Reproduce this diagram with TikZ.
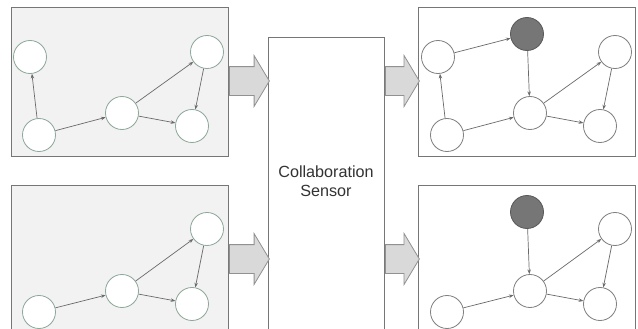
\documentclass[tikz,border=0pt]{standalone}
\usepackage{fontspec}
\setmainfont{Liberation Sans}
\usetikzlibrary{
  arrows.meta,   % 连线箭头
  shapes.arrows, % 粗箭头
  positioning    % 节点相对定位
}
\definecolor{panelgray}{HTML}{F2F2F2}
\definecolor{framegray}{HTML}{767676}
\definecolor{ringgreen}{HTML}{8CA898}
\definecolor{ringgray}{HTML}{808080}
\definecolor{edgegray}{HTML}{6A6A6A}
\definecolor{hitgray}{HTML}{767676}
\definecolor{arrowfill}{HTML}{D9D9D9}
\tikzset{
  panel/.style={
    draw=framegray,
    fill=panelgray,
    line width=0.8pt,
    anchor=north west,
    inner sep=0pt
  },
  outpanel/.style={
    panel,
    fill=white
  },
  vertex/.style={
    circle,
    draw=ringgreen,
    fill=white,
    line width=0.7pt,
    inner sep=0pt,
    minimum size=0.99cm
  },
  outvertex/.style={
    vertex,
    draw=ringgray
  },
  hit/.style={
    vertex,
    draw=black!65,
    fill=hitgray
  },
  edge/.style={
    -{Stealth[length=4pt,width=3pt]},
    draw=edgegray,
    line width=0.6pt
  },
  bigarrow/.style={
    single arrow,
    draw=framegray!80,
    fill=arrowfill,
    line width=0.7pt,
    inner xsep=0pt,
    inner ysep=0.42cm,
    minimum height=1.2cm,
    single arrow head extend=0.33cm,
    single arrow tip angle=118,
    anchor=tail
  }
}

\begin{document}
\begin{tikzpicture}[x=0.03cm, y=-0.03cm]
  % 画布大小
  \useasboundingbox (0,0) rectangle (638,328);

  % 1. 四个面板与中间的协作传感器
  \node[panel, minimum width=6.51cm, minimum height=4.47cm] (inTop) at (11,7) {};
  \node[panel, minimum width=6.51cm, minimum height=4.8cm] (inBot) at (11,185) {};
  \node[outpanel, minimum width=6.51cm, minimum height=4.47cm] (outTop) at (418,7) {};
  \node[outpanel, minimum width=6.51cm, minimum height=4.8cm] (outBot) at (418,185) {};
  \node[outpanel, minimum width=3.48cm, minimum height=9.3cm] (sensor) at (268,37) {};
  \node[align=center, font=\fontsize{13.8}{16.5}\selectfont, text=black!80]
    (label) at (326,181) {Collaboration\\Sensor};

  % 2. 粗箭头
  \node[bigarrow] (arrInTop) at (inTop.east |- 0,81) {};
  \node[bigarrow] (arrInBot) at (inBot.east |- 0,259) {};
  \node[bigarrow, minimum height=1.02cm] (arrOutTop) at (sensor.east |- 0,81) {};
  \node[bigarrow, minimum height=1.02cm] (arrOutBot) at (sensor.east |- 0,259) {};

  % 3. 左上图
  \node[vertex] (ltA) at (30,57) {};
  \node[vertex] (ltB) at (39,135) {};
  \node[vertex] (ltC) at (122,113) {};
  \node[vertex] (ltD) at (207,52) {};
  \node[vertex] (ltE) at (192,126) {};
  \draw[edge] (ltB) -- (ltA);
  \draw[edge] (ltB) -- (ltC);
  \draw[edge] (ltC) -- (ltD);
  \draw[edge] (ltC) -- (ltE);
  \draw[edge] (ltD) -- (ltE);

  % 4. 左下图
  \node[vertex] (lbB) at (39,312) {};
  \node[vertex] (lbC) at (122,291) {};
  \node[vertex] (lbD) at (207,229) {};
  \node[vertex] (lbE) at (192,304) {};
  \draw[edge] (lbB) -- (lbC);
  \draw[edge] (lbC) -- (lbD);
  \draw[edge] (lbC) -- (lbE);
  \draw[edge] (lbD) -- (lbE);

  % 5. 右上图（灰色为被发现的节点）
  \node[outvertex] (rtA) at (438,57) {};
  \node[hit] (rtG) at (527,34) {};
  \node[outvertex] (rtB) at (447,135) {};
  \node[outvertex] (rtC) at (530,113) {};
  \node[outvertex] (rtD) at (615,52) {};
  \node[outvertex] (rtE) at (600,126) {};
  \draw[edge] (rtB) -- (rtA);
  \draw[edge] (rtA) -- (rtG);
  \draw[edge] (rtG) -- (rtC);
  \draw[edge] (rtB) -- (rtC);
  \draw[edge] (rtC) -- (rtD);
  \draw[edge] (rtC) -- (rtE);
  \draw[edge] (rtD) -- (rtE);

  % 6. 右下图
  \node[hit] (rbG) at (527,212) {};
  \node[outvertex] (rbB) at (447,312) {};
  \node[outvertex] (rbC) at (530,291) {};
  \node[outvertex] (rbD) at (615,229) {};
  \node[outvertex] (rbE) at (600,304) {};
  \draw[edge] (rbG) -- (rbC);
  \draw[edge] (rbB) -- (rbC);
  \draw[edge] (rbC) -- (rbD);
  \draw[edge] (rbC) -- (rbE);
  \draw[edge] (rbD) -- (rbE);
\end{tikzpicture}
\end{document}
